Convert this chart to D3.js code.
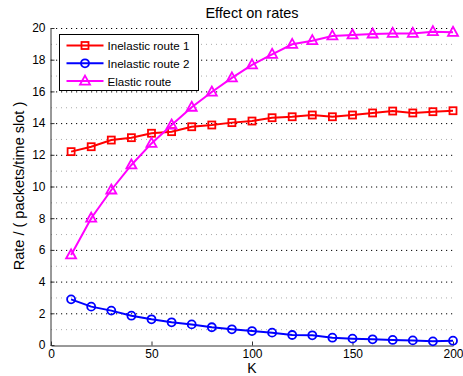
<!DOCTYPE html>
<html>
<head>
<meta charset="utf-8">
<script src="https://cdn.jsdelivr.net/npm/d3@7"></script>
<style>
  body { margin: 0; background: #fff; }
  text { font-family: "Liberation Sans", Arial, sans-serif; }
</style>
</head>
<body>
<div id="chart-area"></div>
<script>

const kValues = [10, 20, 30, 40, 50, 60, 70, 80, 90, 100, 110, 120, 130, 140, 150, 160, 170, 180, 190, 200];
const inelastic1 = [12.2, 12.51, 12.93, 13.08, 13.36, 13.46, 13.77, 13.88, 14.03, 14.13, 14.34, 14.4, 14.51, 14.4, 14.51, 14.64, 14.76, 14.64, 14.72, 14.78];
const inelastic2 = [2.88, 2.42, 2.17, 1.85, 1.62, 1.43, 1.3, 1.12, 0.99, 0.88, 0.78, 0.63, 0.61, 0.46, 0.4, 0.36, 0.32, 0.29, 0.23, 0.27];
const elastic = [5.68, 8.0, 9.78, 11.36, 12.72, 13.88, 15.0, 15.96, 16.85, 17.67, 18.34, 18.97, 19.2, 19.5, 19.56, 19.62, 19.66, 19.66, 19.77, 19.73];
const seriesNames = ['Inelastic route 1', 'Inelastic route 2', 'Elastic route'];
const xTicks = [0, 50, 100, 150, 200];
const yTicks = [0, 2, 4, 6, 8, 10, 12, 14, 16, 18, 20];
const yMinor = [1, 3, 5, 7, 9, 11, 13, 15, 17, 19];

const width = 463;
const height = 376;

const x = d3.scaleLinear().domain([0, 200]).range([51, 453]);
const y = d3.scaleLinear().domain([0, 20]).range([345, 28]);

const svg = d3.select('#chart-area').append('svg')
  .attr('width', width)
  .attr('height', height);

// grid
svg.append('g').selectAll('line')
  .data(yMinor)
  .enter().append('line')
    .attr('x1', x(0)).attr('x2', x(200))
    .attr('y1', d => y(d) + 0.5).attr('y2', d => y(d) + 0.5)
    .attr('stroke', '#aaa')
    .attr('stroke-width', 1)
    .attr('stroke-dasharray', '1,4');

svg.append('g').selectAll('line')
  .data(yTicks.filter(d => d > 0))
  .enter().append('line')
    .attr('x1', x(0)).attr('x2', x(200))
    .attr('y1', d => y(d) + 0.5).attr('y2', d => y(d) + 0.5)
    .attr('stroke', '#000')
    .attr('stroke-width', 1)
    .attr('stroke-dasharray', '1.2,3.8');

// axes
const xAxis = d3.axisBottom(x).tickValues(xTicks).tickSizeInner(-4).tickSizeOuter(0).tickPadding(3.5);
const yAxis = d3.axisLeft(y).tickValues(yTicks).tickSizeInner(-4).tickSizeOuter(0).tickPadding(5);

const gx = svg.append('g')
  .attr('transform', `translate(0, ${y(0) + 0.5})`)
  .call(xAxis);
const gy = svg.append('g')
  .attr('transform', `translate(${x(0) - 0.5}, 0)`)
  .call(yAxis);

[gx, gy].forEach(g => {
  g.select('.domain').attr('stroke', '#333').attr('stroke-width', 1);
  g.selectAll('.tick line').attr('stroke', '#333');
  g.selectAll('.tick text')
    .attr('fill', '#000')
    .style('font-size', '12px')
    .style('font-family', '"Liberation Sans", Arial, sans-serif');
});

// series
const series = [
  { name: seriesNames[0], values: inelastic1, color: '#ff0000', marker: 'square' },
  { name: seriesNames[1], values: inelastic2, color: '#0000ff', marker: 'circle' },
  { name: seriesNames[2], values: elastic, color: '#ff00ff', marker: 'triangle' }
];

const line = d3.line()
  .x(d => x(d[0]))
  .y(d => y(d[1]));

const drawMarker = (sel, type, color) => {
  if (type === 'square') {
    sel.append('rect')
      .attr('x', -3.5).attr('y', -3.5)
      .attr('width', 7).attr('height', 7)
      .attr('fill', 'none').attr('stroke', color).attr('stroke-width', 1.8);
  } else if (type === 'circle') {
    sel.append('circle')
      .attr('r', 4)
      .attr('fill', 'none').attr('stroke', color).attr('stroke-width', 1.8);
  } else {
    sel.append('path')
      .attr('d', 'M0,-5.5L5,3.5L-5,3.5Z')
      .attr('fill', 'none').attr('stroke', color).attr('stroke-width', 1.8);
  }
};

series.forEach(s => {
  const pts = kValues.map((k, i) => [k, s.values[i]]);
  svg.append('path')
    .datum(pts)
    .attr('fill', 'none')
    .attr('stroke', s.color)
    .attr('stroke-width', 2)
    .attr('d', line);

  const m = svg.append('g').selectAll('g')
    .data(pts)
    .enter().append('g')
      .attr('transform', d => `translate(${x(d[0])}, ${y(d[1])})`);
  drawMarker(m, s.marker, s.color);
});

// legend
const legend = svg.append('g').attr('transform', 'translate(59.5, 34.5)');
legend.append('rect')
  .attr('width', 139).attr('height', 56)
  .attr('fill', '#fff')
  .attr('stroke', '#000')
  .attr('stroke-width', 1);

series.forEach((s, i) => {
  const row = legend.append('g').attr('transform', `translate(0, ${11 + i * 17.8})`);
  row.append('line')
    .attr('x1', 7).attr('x2', 44)
    .attr('stroke', s.color).attr('stroke-width', 2);
  const mk = row.append('g').attr('transform', 'translate(25.5, 0)');
  drawMarker(mk, s.marker, s.color);
  row.append('text')
    .attr('x', 48).attr('y', 4.5)
    .style('font-size', '11.6px')
    .text(s.name);
});

// titles
svg.append('text')
  .attr('x', 252).attr('y', 18)
  .attr('text-anchor', 'middle')
  .style('font-size', '14.5px')
  .text('Effect on rates');

svg.append('text')
  .attr('x', 252).attr('y', 373)
  .attr('text-anchor', 'middle')
  .style('font-size', '14px')
  .text('K');

svg.append('text')
  .attr('transform', 'translate(24, 186) rotate(-90)')
  .attr('text-anchor', 'middle')
  .style('font-size', '14.5px')
  .text('Rate / ( packets/time slot )');

</script>
</body>
</html>
